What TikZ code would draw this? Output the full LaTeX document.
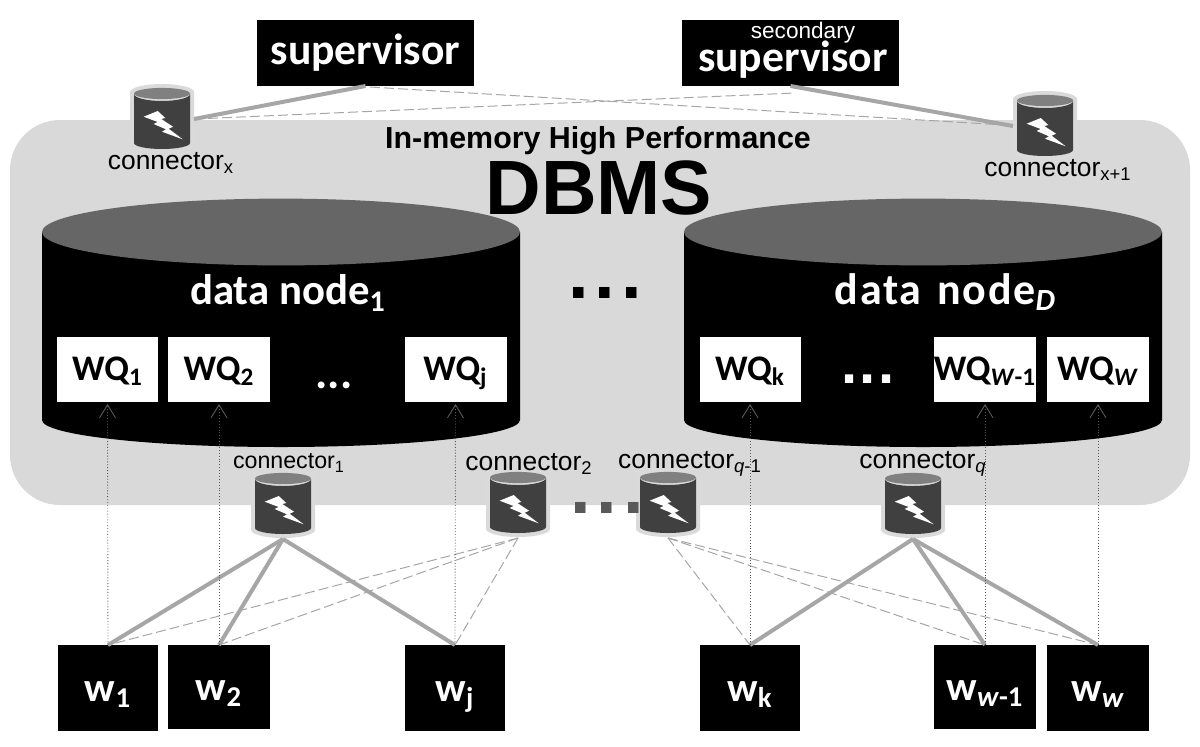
\documentclass[tikz,border=0pt]{standalone}
\usepackage{fontspec}
\setmainfont{Carlito}
\newfontfamily\ls{Liberation Sans}
\usetikzlibrary{arrows.meta}
\definecolor{panel}{HTML}{D9D9D9}
\definecolor{lidgray}{HTML}{666666}
\definecolor{rimgray}{HTML}{DADADA}
\definecolor{bodygray}{HTML}{404040}
\definecolor{capgray}{HTML}{808080}
\definecolor{linegray}{HTML}{A6A6A6}
\definecolor{dotgray}{HTML}{595959}
\newcommand{\fs}[1]{\fontsize{#1}{#1}\selectfont}
\newcommand{\conncyl}[3]{%
  \begin{scope}[shift={(#2,#3)}]
    \fill[rimgray] (-32,4) -- (-32,57) arc[start angle=180,end angle=360,x radius=16pt,y radius=4pt] -- (32,4) arc[start angle=0,end angle=180,x radius=16pt,y radius=4pt] -- cycle;
    \fill[bodygray] (-28,6) arc[start angle=180,end angle=360,x radius=14pt,y radius=3.5pt] -- (28,55) arc[start angle=360,end angle=180,x radius=14pt,y radius=3pt] -- cycle;
    \fill[capgray] (0,5.5) ellipse[x radius=14pt,y radius=2.8pt];
    \fill[white] (-18.3,28.7) -- (-4.3,23) -- (3.3,30) -- (-0.7,31) -- (11,38.7) -- (6.7,40.7) -- (20.7,51.3) -- (0,43.7) -- (4,41.3) -- (-8.3,36) -- (-4.3,34) -- cycle;
  \end{scope}
  \node[cylhit] (#1) at (#2,#3+31) {};}
\newcommand{\datacyl}[3]{%
  \fill[black] (#2,232) -- (#2,420) arc[start angle=180,end angle=360,x radius=119.5pt,y radius=13.5pt] -- (#3,232) -- cycle;
  \fill[lidgray] ({(#2+#3)/2},232) ellipse[x radius=119.5pt,y radius=16.7pt];}
\tikzset{
  x=0.5pt,y=-0.5pt,
  cylhit/.style={inner sep=0pt,outer sep=0pt,minimum width=32pt,minimum height=35pt},
  blackbox/.style={fill=black,text=white,inner sep=0pt,outer sep=0pt,font=\bfseries},
  supbox/.style={blackbox,minimum width=108.5pt,minimum height=33pt},
  wbox/.style={blackbox,minimum width=50pt,minimum height=43pt,font=\bfseries\fs{20.5},text height=15pt,text depth=2pt},
  wqbox/.style={fill=white,text=black,inner sep=0pt,outer sep=0pt,minimum height=32.5pt,minimum width=50.5pt,font=\bfseries\fs{18},text height=12.5pt,text depth=2pt},
  conlabel/.style={inner sep=0pt,font=\ls\fs{13.2}},
  thickline/.style={draw=linegray,line width=2pt},
  dashline/.style={draw=linegray,line width=0.5pt,dash pattern=on 5pt off 2pt},
  dotarrow/.style={draw=dotgray,line width=0.45pt,densely dotted,-{Straight Barb[length=6.5pt,width=8pt]},shorten >=1pt},
}
\begin{document}
\begin{tikzpicture}
\useasboundingbox (0,0) rectangle (1200,746);
\fill[panel,rounded corners=25pt] (10,120) rectangle (1190,505);
\datacyl{d1}{42}{520}
\datacyl{d2}{684}{1162}
% connectors
\conncyl{cx}{162}{88}
\conncyl{cy}{1045}{95}
\conncyl{c1}{283}{473}
\conncyl{c2}{518}{472}
\conncyl{cp}{668}{472}
\conncyl{cq}{913}{473}
% supervisors
\node[supbox] (sup) at (365.5,53) {\fs{21.8}supervisor};
\node[supbox] (supb) at (790.5,53) {};
\node[inner sep=0pt,text=white,font=\ls\fs{11.3}] (suba) at (803,33) {secondary};
\node[inner sep=0pt,text=white,font=\bfseries\fs{21.8}] (subb) at (793,60) {supervisor};
\coordinate (supr) at (370,87);
\coordinate (supl) at (795,93);
\coordinate (cyin) at (1005,125);
% data node labels
\node[inner sep=0pt,text=white,font=\bfseries\fs{21.4}] (dn1) at (288,293) {data node\textsubscript{1}};
\node[inner sep=0pt,text=white,font=\bfseries\fs{22}] (dn2) at (946,292) {\addfontfeature{LetterSpace=4}data\hspace{2pt} node\textsubscript{\textit{D}}};
% queues
\node[wqbox] (q1) at (107.5,369.5) {WQ\textsubscript{1}};
\node[wqbox,minimum width=51pt] (q2) at (219,369.5) {WQ\textsubscript{2}};
\node[wqbox,minimum width=51pt] (qj) at (455.5,369.5) {WQ\textsubscript{j}};
\node[wqbox] (qk) at (750,369.5) {WQ\textsubscript{k}};
\node[wqbox,minimum width=51pt] (qv) at (985,369.5) {WQ\textsubscript{\textit{W}-1}};
\node[wqbox,minimum width=51pt] (qw) at (1098,369.5) {WQ\textsubscript{\textit{W}}};
% workers
\node[wbox] (w1) at (108,688) {w\textsubscript{1}};
\node[wbox,minimum width=51pt,minimum height=42pt] (w2) at (219,687) {w\textsubscript{2}};
\node[wbox] (wj) at (455,688) {w\textsubscript{j}};
\node[wbox] (wk) at (750,688) {w\textsubscript{k}};
\node[wbox,minimum width=51pt,minimum height=42pt] (wv) at (985,687) {w\textsubscript{\textit{w}-1}};
\node[wbox,minimum width=51pt] (ww) at (1098,688) {w\textsubscript{\textit{w}}};
% titles
\node[inner sep=0pt,font=\ls\bfseries\fs{15.2}] (ttl) at (598,141) {In-memory High Performance};
\node[inner sep=0pt,font=\ls\bfseries\fs{38.5}] (dbms) at (599,188) {DBMS};
% connector labels
\node[conlabel] (lx) at (171,163) {connector\textsubscript{x}};
\node[conlabel] (ly) at (1058,170) {connector\textsubscript{x+1}};
\node[conlabel,font=\ls\fs{11.6}] (l1) at (289,463) {connector\textsubscript{1}};
\node[conlabel] (l2) at (529,464) {connector\textsubscript{2}};
\node[conlabel] (lp) at (690,464) {connector\textsubscript{\textit{q}-1}};
\node[conlabel] (lq) at (923,464) {connector\textsubscript{\textit{q}}};
% ellipses
\node[anchor=base,inner sep=0pt,text=white,font=\bfseries\fs{23}] (dotsa) at (334,388) {...};
\node[anchor=base,inner sep=0pt,text=white,font=\ls\bfseries\fs{29}] (dotsb) at (868,383) {.\hspace{1pt}.\hspace{1pt}.};
\node[anchor=base,inner sep=0pt,font=\ls\bfseries\fs{37}] (dotsc) at (605,298) {.\hspace{3pt}.\hspace{3pt}.};
\node[anchor=base,inner sep=0pt,text=dotgray,font=\ls\bfseries\fs{37}] (dotsd) at (607,513) {.\hspace{3pt}.\hspace{3pt}.};
% links top
\draw[thickline] (sup.south) -- (cx.east);
\draw[thickline] (supb.south) -- (cy.west);
\draw[dashline] (supr) -- (cyin);
\draw[dashline] (cx.east) -- (supl);
% links bottom
\foreach \a in {w1,w2,wj}{\draw[thickline] (c1.south) -- (\a.north);}
\foreach \a in {wk,wv,ww}{\draw[thickline] (cq.south) -- (\a.north);}
\foreach \a in {w1,w2,wj}{\draw[dashline] (c2.south) -- (\a.north);}
\foreach \a in {wk,wv,ww}{\draw[dashline] (cp.south) -- (\a.north);}
% dotted arrows
\draw[dotarrow] (w1.north) -- (q1.south);
\draw[dotarrow] (w2.north) -- (q2.south);
\draw[dotarrow] (wj.north) -- (qj.south);
\draw[dotarrow] (wk.north) -- (qk.south);
\draw[dotarrow] (wv.north) -- (qv.south);
\draw[dotarrow] (ww.north) -- (qw.south);
\end{tikzpicture}
\end{document}
